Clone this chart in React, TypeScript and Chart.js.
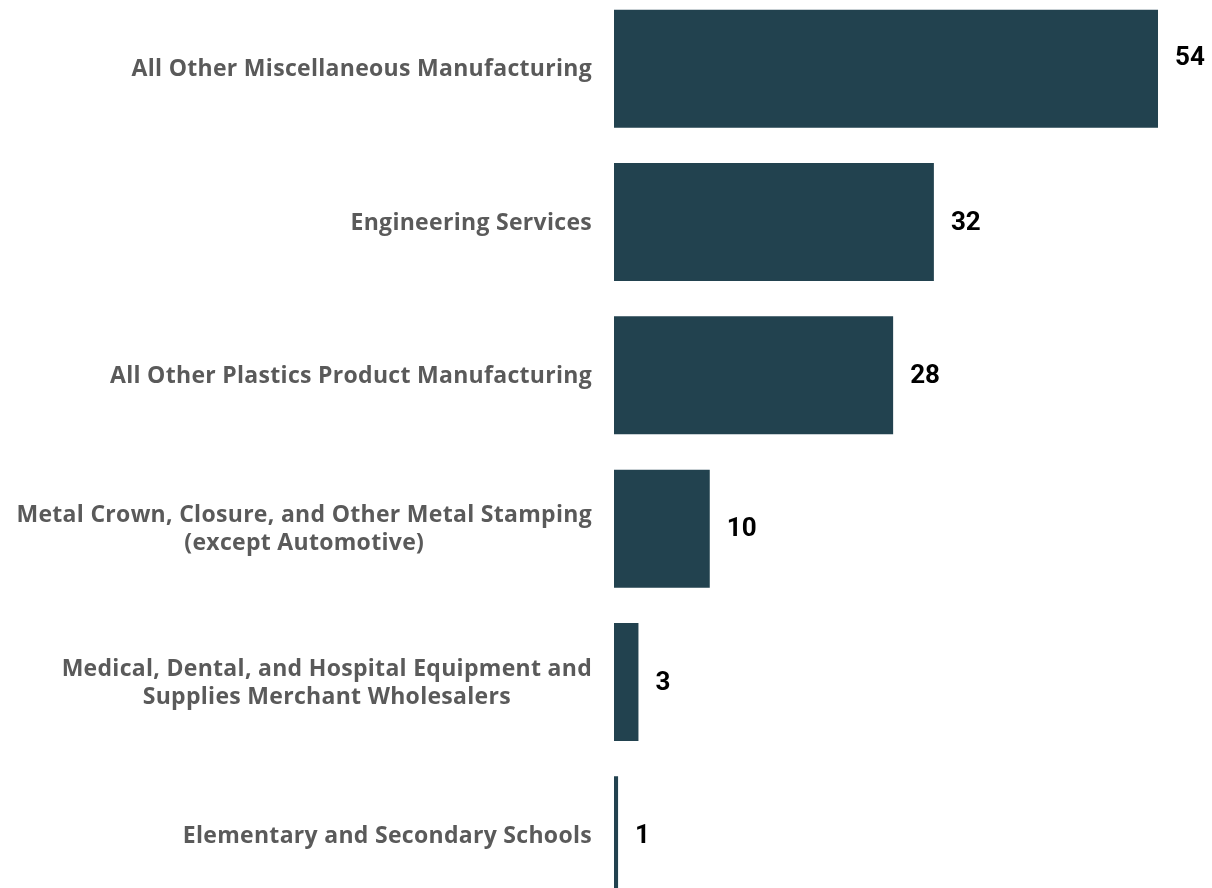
import React, { useEffect, useRef } from "react";
import { Chart, registerables } from "chart.js";

Chart.register(...registerables);

const categories: string[][] = [
  ["All Other Miscellaneous Manufacturing"],
  ["Engineering Services"],
  ["All Other Plastics Product Manufacturing"],
  ["Metal Crown, Closure, and Other Metal Stamping", "(except Automotive)"],
  ["Medical, Dental, and Hospital Equipment and", "Supplies Merchant Wholesalers"],
  ["Elementary and Secondary Schools"],
];

const values: number[] = [54, 32, 28, 10, 3, 1];

const valueLabels: string[] = values.map((v) => String(v));

const BAR_COLOR = "#22424F";
const LABEL_COLOR = "#5A5A5A";

const labelPlugin = {
  id: "customLabels",
  afterDatasetsDraw(chart: any) {
    const ctx = chart.ctx as CanvasRenderingContext2D;
    const meta = chart.getDatasetMeta(0);
    const yScale = chart.scales.y;
    ctx.save();
    // value labels
    ctx.font = "700 26px Roboto";
    ctx.fillStyle = "#000000";
    ctx.textAlign = "left";
    ctx.textBaseline = "middle";
    meta.data.forEach((bar: any, i: number) => {
      const dy = i === 0 ? -10 : 1;
      ctx.fillText(valueLabels[i], bar.x + 17, bar.y + dy);
    });
    // category labels
    ctx.font = "700 23px 'Open Sans'";
    (ctx as any).letterSpacing = "0.3px";
    ctx.fillStyle = LABEL_COLOR;
    ctx.textAlign = "center";
    ctx.textBaseline = "middle";
    const right = chart.chartArea.left - 22;
    const lh = 28;
    categories.forEach((lines, i) => {
      const y = yScale.getPixelForValue(i) + 1;
      const w = Math.max(...lines.map((l) => ctx.measureText(l).width));
      const cx = right - w / 2;
      lines.forEach((l, j) => {
        ctx.fillText(l, cx, y + (j - (lines.length - 1) / 2) * lh);
      });
    });
    ctx.restore();
  },
};

export default function App() {
  const canvasRef = useRef<HTMLCanvasElement | null>(null);

  useEffect(() => {
    document.body.style.overflow = "hidden";
    const canvas = canvasRef.current;
    if (!canvas) return;
    const chart = new Chart(canvas, {
      type: "bar",
      data: {
        labels: categories,
        datasets: [
          {
            data: values,
            backgroundColor: BAR_COLOR,
            borderWidth: 0,
            barPercentage: 0.77,
            categoryPercentage: 1,
          },
        ],
      },
      options: {
        indexAxis: "y",
        animation: false,
        responsive: true,
        maintainAspectRatio: false,
        layout: { padding: { left: 614, right: 0, top: 0, bottom: 0 } },
        scales: {
          x: { display: false, min: 0.6, max: 59.3 },
          y: { display: false },
        },
        plugins: {
          legend: { display: false },
          tooltip: { enabled: false },
        },
      },
      plugins: [labelPlugin],
    });
    return () => chart.destroy();
  }, []);

  return (
    <div
      style={{
        position: "fixed",
        left: 0,
        top: -8,
        width: 1212,
        height: 920,
        background: "#ffffff",
      }}
    >
      <canvas ref={canvasRef} />
    </div>
  );
}
